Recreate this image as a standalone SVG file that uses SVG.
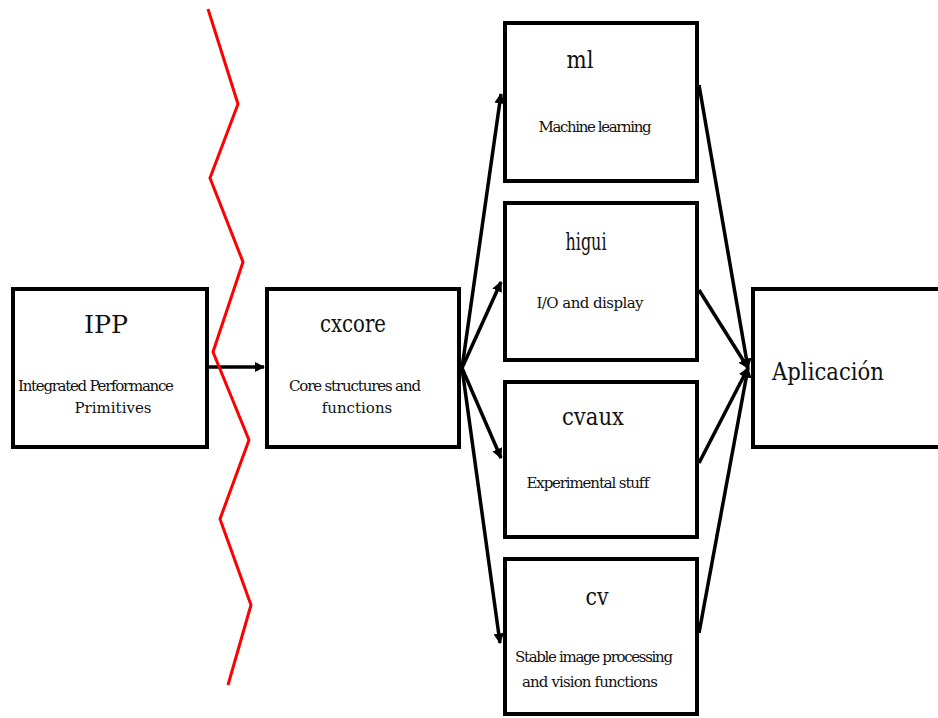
<svg xmlns="http://www.w3.org/2000/svg" width="938" height="718" viewBox="0 0 938 718">
<style>
.box{fill:#fff;stroke:#000;stroke-width:4}
text{font-family:'DejaVu Serif','Liberation Serif',serif;fill:#111;text-anchor:middle}
.big{font-size:25px}
.sm{font-size:15px}
.c{stroke:#000;stroke-width:3.5;fill:none}
</style>
<defs>
<marker id="ah" viewBox="0 0 10 10" refX="9" refY="5" markerWidth="3" markerHeight="3" orient="auto" markerUnits="strokeWidth">
<path d="M0,0 L10,5 L0,10 z" fill="#000"/>
</marker>
</defs>
<g id="connectors">
<line class="c" x1="208" y1="367" x2="264" y2="367" marker-end="url(#ah)"/>
<line class="c" x1="462" y1="368" x2="501" y2="94" marker-end="url(#ah)"/>
<line class="c" x1="462" y1="368" x2="501" y2="282" marker-end="url(#ah)"/>
<line class="c" x1="462" y1="368" x2="501" y2="458" marker-end="url(#ah)"/>
<line class="c" x1="462" y1="368" x2="500" y2="643" marker-end="url(#ah)"/>
<line class="c" x1="699" y1="85" x2="748" y2="368" marker-end="url(#ah)"/>
<line class="c" x1="699" y1="290" x2="748" y2="368" marker-end="url(#ah)"/>
<line class="c" x1="699" y1="463" x2="748" y2="368" marker-end="url(#ah)"/>
<line class="c" x1="699" y1="633" x2="748" y2="368" marker-end="url(#ah)"/>
</g>
<g id="ipp">
<rect class="box" x="13" y="289" width="194" height="158"/>
<text class="big" x="106" y="333" textLength="44" lengthAdjust="spacingAndGlyphs">IPP</text>
<text class="sm" x="96" y="391" textLength="156">Integrated Performance</text>
<text class="sm" x="113" y="413">Primitives</text>
</g>
<g id="cxcore">
<rect class="box" x="267" y="289" width="192" height="158"/>
<text class="big" x="353" y="332" textLength="66" lengthAdjust="spacingAndGlyphs">cxcore</text>
<text class="sm" x="355" y="391" textLength="132">Core structures and</text>
<text class="sm" x="357" y="413">functions</text>
</g>
<g id="ml">
<rect class="box" x="505" y="23" width="192" height="158"/>
<text class="big" x="580" y="68" textLength="27" lengthAdjust="spacingAndGlyphs">ml</text>
<text class="sm" x="595" y="132" textLength="113">Machine learning</text>
</g>
<g id="higui">
<rect class="box" x="505" y="203" width="192" height="157"/>
<text class="big" x="586" y="250" textLength="41" lengthAdjust="spacingAndGlyphs">higui</text>
<text class="sm" x="590" y="308" textLength="107">I/O and display</text>
</g>
<g id="cvaux">
<rect class="box" x="505" y="382" width="192" height="155"/>
<text class="big" x="593" y="425" textLength="62" lengthAdjust="spacingAndGlyphs">cvaux</text>
<text class="sm" x="588" y="488" textLength="123">Experimental stuff</text>
</g>
<g id="cv">
<rect class="box" x="505" y="559" width="192" height="155"/>
<text class="big" x="597" y="605" textLength="23" lengthAdjust="spacingAndGlyphs">cv</text>
<text class="sm" x="594" y="662" textLength="158">Stable image processing</text>
<text class="sm" x="590" y="687" textLength="136">and vision functions</text>
</g>
<g id="aplicacion">
<rect class="box" x="753" y="289" width="190" height="158"/>
<text class="big" x="828" y="380" textLength="112" lengthAdjust="spacingAndGlyphs">Aplicación</text>
</g>
<polyline id="barrier" fill="none" stroke="#f00" stroke-width="3" points="208,9 238,104 210,178 243,262 213,352 249,440 220,519 251,605 228,685"/>
</svg>
